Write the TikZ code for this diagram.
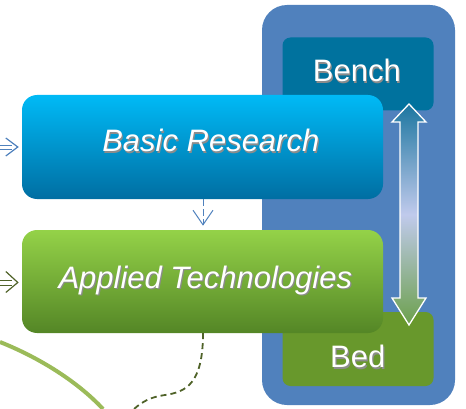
\documentclass[tikz,border=0pt]{standalone}
\usepackage{fontspec}
\setmainfont{Liberation Sans}
\usetikzlibrary{arrows.meta,calc}
\definecolor{contblue}{RGB}{80,129,189}
\definecolor{benchc}{RGB}{0,114,158}
\definecolor{bedc}{RGB}{104,152,44}
\definecolor{brtop}{RGB}{0,186,246}
\definecolor{brbot}{RGB}{0,110,162}
\definecolor{attop}{RGB}{148,210,72}
\definecolor{atbot}{RGB}{84,134,38}
\definecolor{arrblue}{RGB}{79,129,189}
\definecolor{arrolive}{RGB}{79,98,40}
\definecolor{arcgreen}{RGB}{155,187,89}
\definecolor{datop}{RGB}{28,118,160}
\definecolor{damid}{RGB}{192,202,236}
\definecolor{dabot}{RGB}{108,160,76}
\newcommand{\shtext}[1]{\makebox[0pt][l]{\hspace{1.2pt}\raisebox{-1.7pt}{\color{black!45}#1}}#1}
\tikzset{
  bigbox/.style={rounded corners=15pt, minimum width=361pt, inner sep=0pt},
  smallbox/.style={rounded corners=8pt, minimum width=151pt, inner sep=0pt},
  labeltext/.style={font=\fontsize{31}{31}\selectfont, text=white, inner sep=0pt},
  chev/.style={line width=1.2pt, line join=miter},
}
\begin{document}
\begin{tikzpicture}[x=1pt,y=-1pt]
\useasboundingbox (0,0) rectangle (466,409);
% container
\node[fill=contblue, rounded corners=25pt, minimum width=193pt, minimum height=400pt, inner sep=0pt] (cont) at (358.5,205) {};
% bench and bed
\node[smallbox, fill=benchc, minimum height=73pt] (bench) at (358,74) {};
\node[labeltext] (benchtx) at (356.8,71.5) {\shtext{Bench}};
\node[smallbox, fill=bedc, minimum height=74pt] (bed) at (358,349) {};
\node[labeltext] (bedtx) at (357.8,357.5) {\shtext{Bed}};
% double arrow between bench and bed
\coordinate (ta) at (409,104);
\coordinate (tb) at (409,325);
\draw[white, line width=1.3pt, top color=datop, bottom color=dabot, middle color=damid]
  (ta) -- ($(ta)+(17,18)$) -- ($(ta)+(9,18)$) -- ($(tb)+(9,-27)$) -- ($(tb)+(17,-27)$) -- (tb)
  -- ($(tb)+(-17,-27)$) -- ($(tb)+(-9,-27)$) -- ($(ta)+(-9,18)$) -- ($(ta)+(-17,18)$) -- cycle;
% main boxes
\node[bigbox, top color=brtop, bottom color=brbot, minimum height=104pt] (basic) at (202.5,147) {};
\node[labeltext] (basictx) at (210.8,141.5) {\itshape\shtext{Basic Research}};
\node[bigbox, top color=attop, bottom color=atbot, minimum height=103pt] (applied) at (202.5,281.5) {};
\node[labeltext] (appliedtx) at (205.3,281) {\itshape\shtext{Applied Technologies}};
% incoming arrow to Basic Research
\coordinate (inb) at (0,147);
\draw[arrblue, line width=0.9pt] ($(inb)+(0,-2)$) -- ($(inb)+(12,-2)$);
\draw[arrblue, line width=0.9pt] ($(inb)+(0,2)$) -- ($(inb)+(12,2)$);
\draw[arrblue, chev] ($(basic.west)+(-16,-9)$) -- ($(basic.west)+(-4,0)$) -- ($(basic.west)+(-16,9)$);
% incoming arrow to Applied Technologies
\coordinate (ina) at (0,282.5);
\draw[arrolive, line width=0.9pt] ($(ina)+(0,-2.5)$) -- ($(ina)+(12,-2.5)$);
\draw[arrolive, line width=0.9pt] ($(ina)+(0,2.5)$) -- ($(ina)+(12,2.5)$);
\draw[arrolive, chev] ($(applied.west)+(-16,-10)$) -- ($(applied.west)+(-4,1)$) -- ($(applied.west)+(-16,11)$);
% down arrow Basic -> Applied
\draw[arrblue, line width=0.9pt, dash pattern=on 7pt off 3pt] ($(basic.south)+(0.5,0)$) -- ($(applied.north)+(0.5,-5)$);
\draw[arrblue, chev, line width=1pt] ($(basic.south)+(-9.5,11)$) -- ($(applied.north)+(0.5,-5)$) -- ($(basic.south)+(10.5,11)$);
% dashed curve out of Applied
\coordinate (dend) at (134,409);
\draw[arrolive, line width=1.8pt, dash pattern=on 6pt off 4pt]
  ($(applied.south)+(0.5,0)$) .. controls (203,385) and (185,392) .. (165,395) .. controls (150,397) and (142,402) .. (dend);
% green arc
\coordinate (arcs) at (0,342);
\coordinate (arce) at (103,409);
\draw[arcgreen, line width=4pt] (arcs) .. controls (40,358) and (78,382) .. (arce);
\end{tikzpicture}
\end{document}
